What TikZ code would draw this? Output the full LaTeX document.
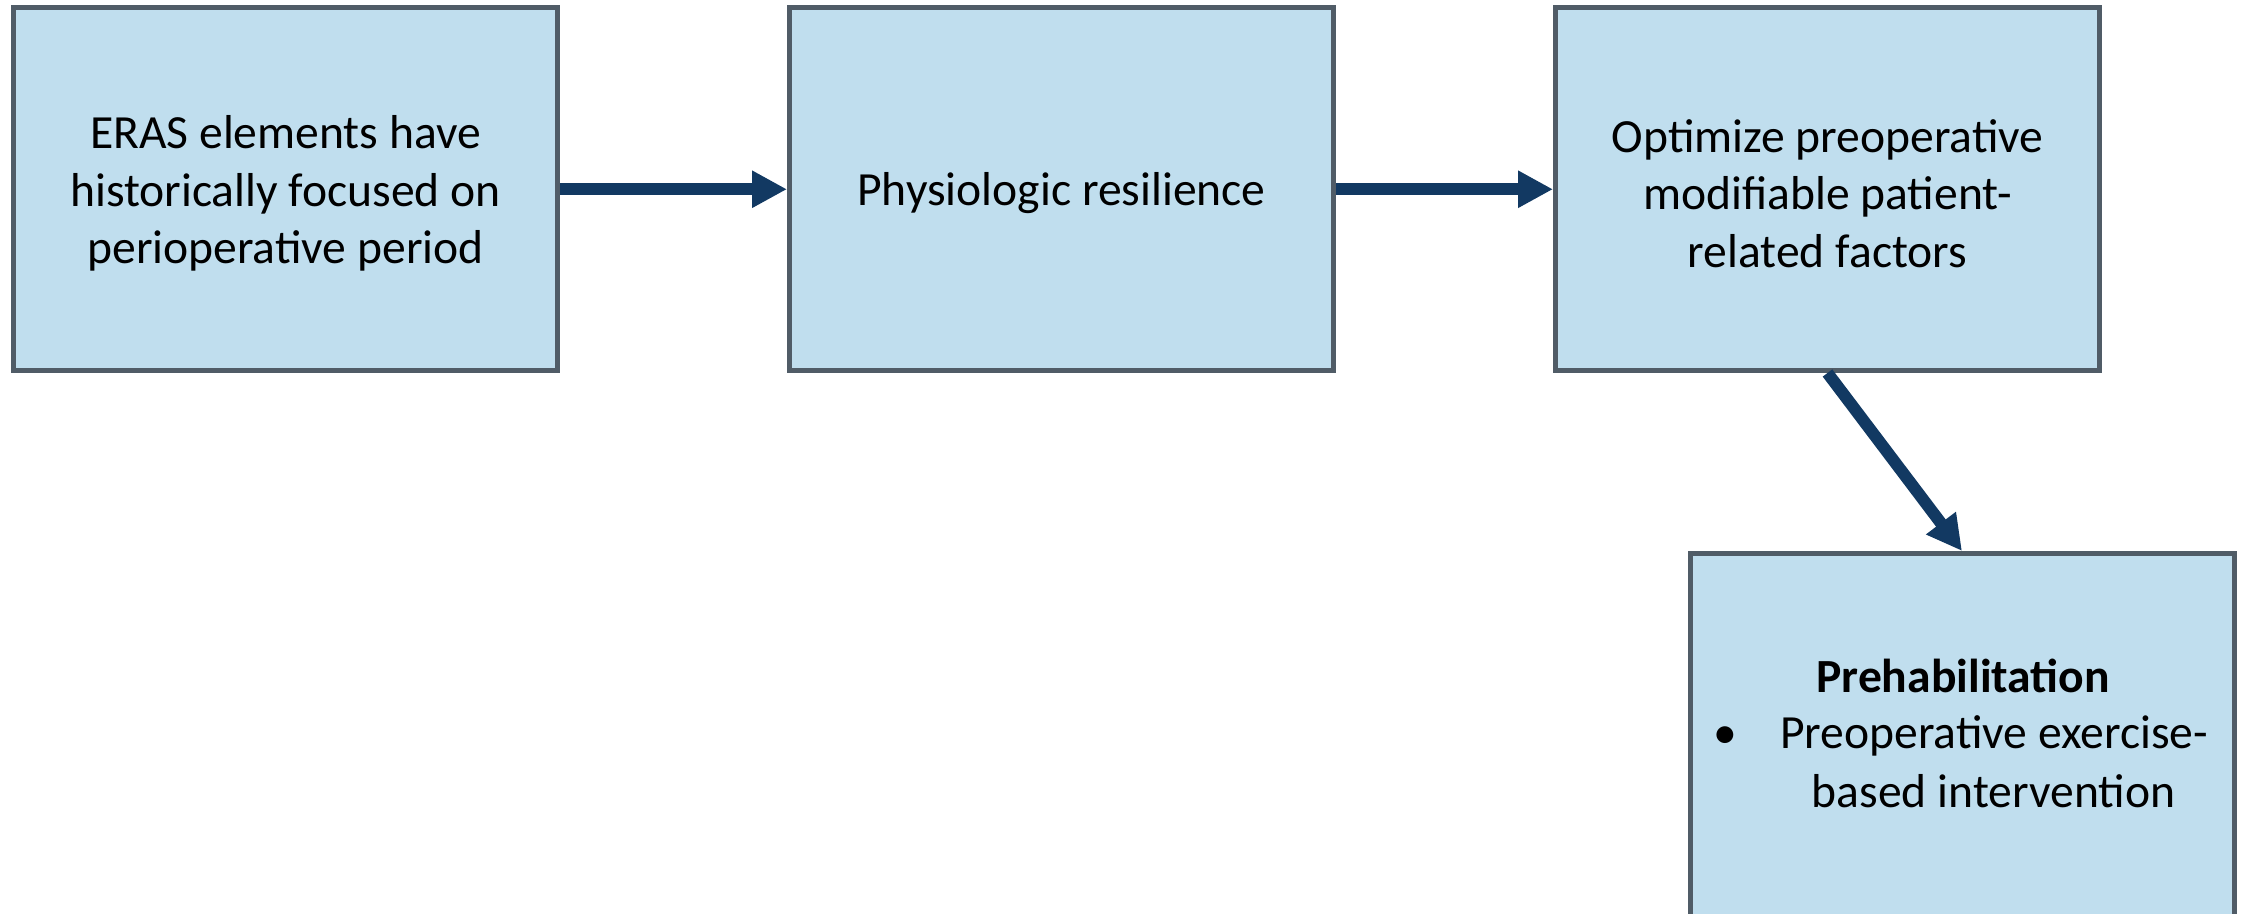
\documentclass[tikz,border=0pt]{standalone}
\usepackage{fontspec}
\setmainfont{Carlito}
\usetikzlibrary{arrows.meta}
\definecolor{boxfill}{RGB}{192,222,238}
\definecolor{boxline}{RGB}{80,92,103}
\definecolor{arrowcol}{RGB}{18,57,98}
\tikzset{
  stepbox/.style={draw=boxline, fill=boxfill, line width=2.5pt,
    minimum width=272pt, minimum height=181.25pt, inner sep=0pt},
  label/.style={inner sep=0pt, align=center,
    font=\fontsize{23.8}{28.8}\selectfont},
  flow/.style={draw=arrowcol, line width=6pt,
    -{Triangle[length=17.5pt,width=17.5pt]}}
}
\begin{document}
\begin{tikzpicture}[x=0.5pt,y=-0.5pt]
  \useasboundingbox (0,0) rectangle (2244,914);
  % the four boxes
  \node[stepbox] (eras) at (285.5,189.25) {};
  \node[stepbox] (resil) at (1061.5,189.25) {};
  \node[stepbox] (optim) at (1827.5,189.25) {};
  \node[stepbox] (prehab) at (1962,734.75) {};
  % box texts
  \node[label] (erastext) at (285.5,193.5)
    {ERAS elements have\\historically focused on\\perioperative period};
  \node[label] (resiltext) at (1061.5,193.5) {Physiologic resilience};
  \node[label] (optimtext) at (1827.5,193.5)
    {Optimize preoperative\\modifiable patient-\\related factors};
  \node[label, anchor=base, font=\fontsize{23.8}{28.8}\selectfont\bfseries]
    (ptitle) at (1963,692) {Prehabilitation};
  \node[label, anchor=base] (pbullet) at (1725,748) {\textbullet};
  \node[label, anchor=base] (pline1) at (1994,748) {Preoperative exercise-};
  \node[label, anchor=base] (pline2) at (1993.5,807) {based intervention};
  % connectors
  \draw[flow] (eras.east) -- (resil.west);
  \draw[flow] (resil.east) -- (optim.west);
  \draw[flow] (optim.south) -- (prehab.north);
\end{tikzpicture}
\end{document}
